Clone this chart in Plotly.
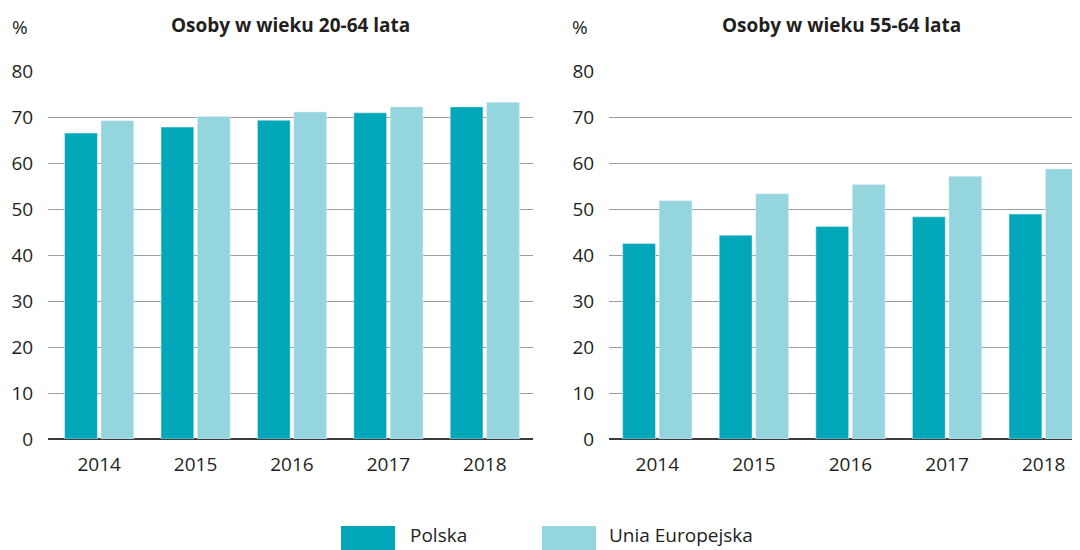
import plotly.graph_objects as go

# dane: wskaźnik zatrudnienia (%)
lata = ["2014", "2015", "2016", "2017", "2018"]
polska_20_64 = [66.5, 67.8, 69.3, 70.9, 72.2]
ue_20_64 = [69.2, 70.1, 71.1, 72.2, 73.2]
polska_55_64 = [42.5, 44.3, 46.2, 48.3, 48.9]
ue_55_64 = [51.8, 53.3, 55.3, 57.1, 58.7]

tytuly = ["Osoby w wieku 20-64 lata", "Osoby w wieku 55-64 lata"]
serie = ["Polska", "Unia Europejska"]
kolory = ["#00a7b9", "#94d5de"]
y_ticks = [0, 10, 20, 30, 40, 50, 60, 70, 80]

TXT = "#231f20"
FONT = "Open Sans"
FS = 19
OFF = 8  # margines body strony
W, H = 1080 - OFF, 550 - OFF


def px(p):
    return (p - OFF) / W


def py(p):
    return (439 - p) / 368


fig = go.Figure()

for xa, ya, pl, ue in [("x", "y", polska_20_64, ue_20_64),
                       ("x2", "y2", polska_55_64, ue_55_64)]:
    fig.add_trace(go.Bar(x=lata, y=pl, name=serie[0], marker_color=kolory[0],
                         xaxis=xa, yaxis=ya, showlegend=False))
    fig.add_trace(go.Bar(x=lata, y=ue, name=serie[1], marker_color=kolory[1],
                         xaxis=xa, yaxis=ya, showlegend=False))

osx = dict(type="category", showgrid=False, ticks="outside", ticklen=8,
           tickcolor="rgba(0,0,0,0)", showline=False, fixedrange=True,
           tickfont=dict(size=FS, color=TXT, family=FONT))
osy = dict(range=[0, 80], tickvals=y_ticks, showgrid=True, gridcolor="#9d9d9d",
           gridwidth=1, zeroline=True, zerolinecolor="#3c3c3c", zerolinewidth=1.5,
           ticks="outside", ticklen=10, tickcolor="rgba(0,0,0,0)",
           tickfont=dict(size=FS, color=TXT, family=FONT))

fig.update_layout(
    width=W, height=H,
    margin=dict(l=0, r=0, t=71 - OFF, b=111),
    paper_bgcolor="white", plot_bgcolor="white",
    barmode="group", bargap=0.245, bargroupgap=0.1,
    font=dict(family=FONT, color=TXT),
    xaxis=dict(osx, domain=[px(48), px(533)], range=[-0.531, 4.5], anchor="y"),
    yaxis=dict(osy, anchor="x"),
    xaxis2=dict(osx, domain=[px(609), 1.0], range=[-0.5, 4.376], anchor="y2"),
    yaxis2=dict(osy, anchor="x2"),
)

# tytuły paneli i jednostka
for xc, t in [(290, tytuly[0]), (841, tytuly[1])]:
    fig.add_annotation(x=px(xc), y=py(25), xref="paper", yref="paper", text=f"<b>{t}</b>",
                       xanchor="center", yanchor="middle", showarrow=False,
                       font=dict(size=FS, color=TXT, family=FONT))
for xc in [20, 580]:
    fig.add_annotation(x=px(xc), y=py(27), xref="paper", yref="paper", text="%",
                       xanchor="center", yanchor="middle", showarrow=False,
                       font=dict(size=FS, color=TXT, family=FONT))

# legenda rysowana ręcznie (szerokie prostokąty jak w oryginale)
for x0, kol, txt, xt in [(341, kolory[0], serie[0], 408), (542, kolory[1], serie[1], 607)]:
    fig.add_shape(type="rect", xref="paper", yref="paper", x0=px(x0), x1=px(x0 + 54),
                  y0=py(526), y1=py(552), fillcolor=kol, line_width=0)
    fig.add_annotation(x=px(xt), y=py(535), xref="paper", yref="paper", text=txt,
                       xanchor="left", yanchor="middle", showarrow=False,
                       font=dict(size=FS, color=TXT, family=FONT))

fig.write_html("out.html")
